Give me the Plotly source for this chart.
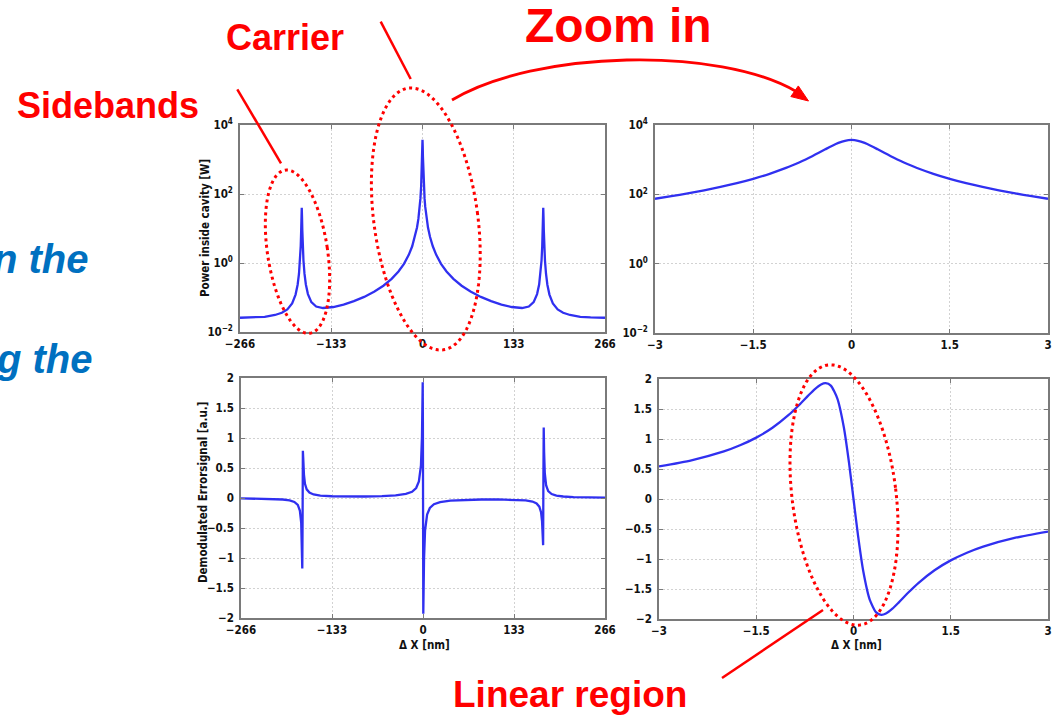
import numpy as np
import plotly.graph_objects as go

W, H = 1063, 716

# ---------------- data ----------------
# Top-left: power inside cavity over the full scan [W]
power_x = [-266, -258, -245, -230, -215, -205, -197, -190, -185, -182, -180, -178.5, -177.5,
           -176.8, -176.4, -176, -175.6, -175.2, -174.5, -173.5, -172, -170, -167, -162, -155,
           -145, -130, -115, -100, -85, -70, -57, -45, -35, -27, -20, -15, -11, -8, -6, -4, -3,
           -2, -1.5, -1, -0.6, -0.3, 0, 0.3, 0.6, 1, 1.5, 2, 3, 4, 6, 8, 11, 15, 20, 27, 35, 45,
           57, 70, 85, 100, 115, 130, 145, 155, 162, 167, 170, 172, 173.5, 174.5, 175.2, 175.6,
           176, 176.4, 176.8, 177.5, 178.5, 180, 182, 185, 190, 197, 205, 215, 230, 245, 258, 266]
power_w = [0.0259, 0.0260, 0.0266, 0.0276, 0.0311, 0.0361, 0.0452, 0.0672, 0.1215, 0.235, 0.488,
           1.18, 3.07, 9.0, 21.4, 40.0, 21.4, 9.0, 3.07, 1.18, 0.490, 0.238, 0.1255, 0.0735,
           0.0548, 0.0496, 0.0530, 0.0626, 0.0783, 0.1041, 0.1485, 0.219, 0.346, 0.567, 0.946,
           1.719, 3.05, 5.65, 10.66, 18.9, 42.3, 74.5, 163.5, 281, 577, 1256, 2489, 3700, 2489,
           1256, 577, 281, 163.5, 74.5, 42.3, 18.9, 10.66, 5.65, 3.05, 1.719, 0.946, 0.567,
           0.346, 0.219, 0.1485, 0.1041, 0.0783, 0.0626, 0.0530, 0.0496, 0.0548, 0.0735, 0.1255,
           0.238, 0.490, 1.18, 3.07, 9.0, 21.4, 40.0, 21.4, 9.0, 3.07, 1.18, 0.488, 0.235,
           0.1215, 0.0672, 0.0452, 0.0361, 0.0311, 0.0276, 0.0266, 0.0260, 0.0259]

# Top-right: zoom on the carrier [W]
zoom_power_x = [-3, -2.75, -2.5, -2.25, -2, -1.75, -1.5, -1.25, -1, -0.9, -0.8, -0.7, -0.6, -0.5,
                -0.4, -0.3, -0.2, -0.1, 0, 0.1, 0.2, 0.3, 0.4, 0.5, 0.6, 0.7, 0.8, 0.9, 1, 1.25,
                1.5, 1.75, 2, 2.25, 2.5, 2.75, 3]
zoom_power_w = [74.5, 88.3, 106.3, 130.4, 163.5, 210.7, 281, 391.5, 577, 688, 829, 1014, 1256,
                1573, 1984, 2489, 3042, 3510, 3700, 3510, 3042, 2489, 1984, 1573, 1256, 1014,
                829, 688, 577, 391.5, 281, 210.7, 163.5, 130.4, 106.3, 88.3, 74.5]

# Bottom-left: demodulated error signal over the full scan [a.u.]
err_x = [-266, -240, -220, -205, -195, -188, -183, -180, -178, -177, -176.43, -176, -175.57,
         -175, -174, -172.5, -170, -166, -160, -150, -133, -110, -85, -60, -40, -25, -16, -10,
         -6, -3, -1.5, -0.8, -0.43, -0.15, 0, 0.15, 0.43, 0.8, 1.5, 3, 6, 10, 16, 25, 40, 60,
         85, 110, 133, 150, 160, 166, 170, 172.5, 174, 175, 175.57, 176, 176.43, 177, 178, 180,
         183, 188, 195, 205, 220, 240, 266]
err_v = [-0.005, -0.012, -0.016, -0.025, -0.040, -0.066, -0.116, -0.208, -0.415, -0.768, -1.174,
         -0.394, 0.786, 0.655, 0.391, 0.237, 0.144, 0.090, 0.059, 0.040, 0.029, 0.024, 0.025,
         0.031, 0.044, 0.068, 0.104, 0.166, 0.275, 0.542, 1.02, 1.61, 1.93, 1.20, 0, -1.20,
         -1.93, -1.61, -1.02, -0.542, -0.275, -0.166, -0.104, -0.068, -0.044, -0.031, -0.025,
         -0.024, -0.029, -0.040, -0.059, -0.090, -0.144, -0.237, -0.391, -0.655, -0.786, 0.394,
         1.174, 0.768, 0.415, 0.208, 0.116, 0.066, 0.040, 0.025, 0.016, 0.012, 0.005]

# Bottom-right: zoom on the carrier error signal [a.u.]
zoom_err_x = [-3, -2.5, -2, -1.75, -1.5, -1.25, -1, -0.85, -0.7, -0.6, -0.5, -0.43, -0.35, -0.25,
              -0.15, -0.07, 0, 0.07, 0.15, 0.25, 0.35, 0.43, 0.5, 0.6, 0.7, 0.85, 1, 1.25, 1.5,
              1.75, 2, 2.5, 3]
zoom_err_v = [0.542, 0.645, 0.793, 0.895, 1.023, 1.187, 1.401, 1.555, 1.722, 1.828, 1.908, 1.930,
              1.890, 1.677, 1.201, 0.612, 0, -0.612, -1.201, -1.677, -1.890, -1.930, -1.908,
              -1.828, -1.722, -1.555, -1.401, -1.187, -1.023, -0.895, -0.793, -0.645, -0.542]

# tick labels
wide_ticks = [-266, -133, 0, 133, 266]
wide_ticktext = ["−266", "−133", "0", "133", "266"]
zoom_ticks = [-3, -1.5, 0, 1.5, 3]
zoom_ticktext = ["−3", "−1.5", "0", "1.5", "3"]
log_ticks = [0.01, 1, 100, 10000]
log_ticktext = ["10<sup>−2</sup>", "10<sup>0</sup>", "10<sup>2</sup>", "10<sup>4</sup>"]
err_ticks = [-2, -1.5, -1, -0.5, 0, 0.5, 1, 1.5, 2]
err_ticktext = ["−2", "−1.5", "−1", "−0.5", "0", "0.5", "1", "1.5", "2"]

# ---------------- figure ----------------
LINE = dict(color="#3030f0", width=2.3)
fig = go.Figure()
fig.add_trace(go.Scatter(x=power_x, y=power_w, mode="lines", line=LINE, xaxis="x", yaxis="y"))
fig.add_trace(go.Scatter(x=zoom_power_x, y=zoom_power_w, mode="lines",
                         line=dict(LINE, shape="spline", smoothing=0.8), xaxis="x2", yaxis="y2"))
fig.add_trace(go.Scatter(x=err_x, y=err_v, mode="lines", line=LINE, xaxis="x3", yaxis="y3"))
fig.add_trace(go.Scatter(x=zoom_err_x, y=zoom_err_v, mode="lines",
                         line=dict(LINE, shape="spline", smoothing=0.6), xaxis="x4", yaxis="y4"))


def px_x(x):
    return x / W


def px_y(y):
    return 1 - y / H


TICKFONT = dict(family="DejaVu Sans Condensed, DejaVu Sans", size=11.5, color="#111111",
                weight="bold")


def ax(**kw):
    d = dict(showline=True, linecolor="#7a7a7a", linewidth=1.6, mirror="allticks",
             ticks="inside", ticklen=4, tickcolor="#7a7a7a", tickwidth=1,
             showgrid=True, gridcolor="#d2d2d2", griddash="1.5px,2.5px", gridwidth=1,
             zeroline=False, tickfont=TICKFONT, fixedrange=True, automargin=False)
    d.update(kw)
    return d


# panel pixel boxes: (left, right, top, bottom)
TL = (240, 605, 125, 332)
TR = (655, 1048, 125, 333)
BL = (241, 605, 378, 618)
BR = (659, 1048, 379, 619)


def dom_x(b):
    return [px_x(b[0]), px_x(b[1])]


def dom_y(b):
    return [px_y(b[3]), px_y(b[2])]


fig.update_layout(
    template="none",
    width=W, height=H, autosize=False,
    margin=dict(l=0, r=0, t=0, b=0, pad=0, autoexpand=False),
    paper_bgcolor="white", plot_bgcolor="white",
    showlegend=False,
    xaxis=ax(domain=dom_x(TL), anchor="y", range=[-266, 266], tickvals=wide_ticks,
             ticktext=wide_ticktext),
    yaxis=ax(domain=dom_y(TL), anchor="x", type="log", range=[-2, 4], tickvals=log_ticks,
             ticktext=log_ticktext, ticklabelstandoff=3),
    xaxis2=ax(domain=dom_x(TR), anchor="y2", range=[-3, 3], tickvals=zoom_ticks,
              ticktext=zoom_ticktext),
    yaxis2=ax(domain=dom_y(TR), anchor="x2", type="log", range=[-2, 4], tickvals=log_ticks,
              ticktext=log_ticktext, ticklabelstandoff=3),
    xaxis3=ax(domain=dom_x(BL), anchor="y3", range=[-266, 266], tickvals=wide_ticks,
              ticktext=wide_ticktext),
    yaxis3=ax(domain=dom_y(BL), anchor="x3", range=[-2, 2], tickvals=err_ticks,
              ticktext=err_ticktext, ticklabelstandoff=3),
    xaxis4=ax(domain=dom_x(BR), anchor="y4", range=[-3, 3], tickvals=zoom_ticks,
              ticktext=zoom_ticktext),
    yaxis4=ax(domain=dom_y(BR), anchor="x4", range=[-2, 2], tickvals=err_ticks,
              ticktext=err_ticktext, ticklabelstandoff=3),
)

# ---------------- text annotations ----------------
RED = "#ff0000"
BLUE = "#0070c0"
SANS = "Liberation Sans, Arial, sans-serif"
anns = []


def text(s, x, y, size, color, angle=0, family=SANS, xanchor="center", weight="normal"):
    anns.append(dict(text=s, x=px_x(x), y=px_y(y), xref="paper", yref="paper",
                     showarrow=False, xanchor=xanchor, yanchor="middle", textangle=angle,
                     font=dict(family=family, size=size, color=color, weight=weight)))


text("<b>Zoom in</b>", 618, 26, 48, RED)
text("<b>Carrier</b>", 285, 37, 36, RED)
text("<b>Sidebands</b>", 108, 106, 36, RED)
text("<b>Linear region</b>", 570, 694, 37, RED)
text("<b><i>n the</i></b>", 91, 259, 40, BLUE, xanchor="right")
text("<b><i>g the</i></b>", 95, 359, 40, BLUE, xanchor="right")

AXFONT = "DejaVu Sans Condensed, DejaVu Sans"
text("Power inside cavity [W]", 205, 228, 11.5, "#111111", angle=-90, family=AXFONT,
     weight="bold")
text("Demodulated Errorsignal [a.u.]", 203, 492, 11.5, "#111111", angle=-90, family=AXFONT,
     weight="bold")
text("Δ X [nm]", 424, 645, 11.5, "#111111", family=AXFONT, weight="bold")
text("Δ X [nm]", 856, 645, 11.5, "#111111", family=AXFONT, weight="bold")
fig.update_layout(annotations=anns)

# ---------------- red decorations ----------------
shapes = []


def pline(x0, y0, x1, y1, w=2.5):
    shapes.append(dict(type="line", xref="paper", yref="paper",
                       x0=px_x(x0), y0=px_y(y0), x1=px_x(x1), y1=px_y(y1),
                       line=dict(color=RED, width=w)))


pline(380.7, 21.7, 410.7, 79)      # carrier pointer
pline(237.3, 89.3, 281, 163.3)     # sidebands pointer
pline(823, 610, 722, 678)          # linear region pointer


def ellipse(cx, cy, a, b, tilt_deg):
    t = np.radians(tilt_deg)
    phi = np.linspace(0, 2 * np.pi, 121)
    lx, ly = a * np.cos(phi), b * np.sin(phi)
    xs = cx + lx * np.cos(t) + ly * np.sin(t)
    ys = cy - lx * np.sin(t) + ly * np.cos(t)
    path = "M " + " L ".join(f"{px_x(x):.5f},{px_y(y):.5f}" for x, y in zip(xs, ys)) + " Z"
    shapes.append(dict(type="path", path=path, xref="paper", yref="paper",
                       line=dict(color=RED, width=3, dash="3px,3.5px")))


ellipse(297.5, 251.7, 30, 82.5, 8.7)     # sidebands
ellipse(425.8, 219, 52, 132, 7.6)        # carrier
ellipse(844, 495, 52, 131, 7.0)          # linear region

# curved "zoom in" arrow
p0, c1, c2, p3 = (452, 100), (535, 50), (720, 46), (797, 92)
arc = (f"M {px_x(p0[0])},{px_y(p0[1])} C {px_x(c1[0])},{px_y(c1[1])} "
       f"{px_x(c2[0])},{px_y(c2[1])} {px_x(p3[0])},{px_y(p3[1])}")
shapes.append(dict(type="path", path=arc, xref="paper", yref="paper",
                   line=dict(color=RED, width=2.8)))
tip = np.array([808.5, 101.0])
ang = np.radians(35)
d = np.array([np.cos(ang), np.sin(ang)])
n = np.array([-d[1], d[0]])
base = tip - 17 * d
c_a, c_b = base + 6.5 * n, base - 6.5 * n
head = (f"M {px_x(tip[0])},{px_y(tip[1])} L {px_x(c_a[0])},{px_y(c_a[1])} "
        f"L {px_x(c_b[0])},{px_y(c_b[1])} Z")
shapes.append(dict(type="path", path=head, xref="paper", yref="paper",
                   fillcolor=RED, line=dict(color=RED, width=1)))

fig.update_layout(shapes=shapes)

fig.write_html("out.html")
